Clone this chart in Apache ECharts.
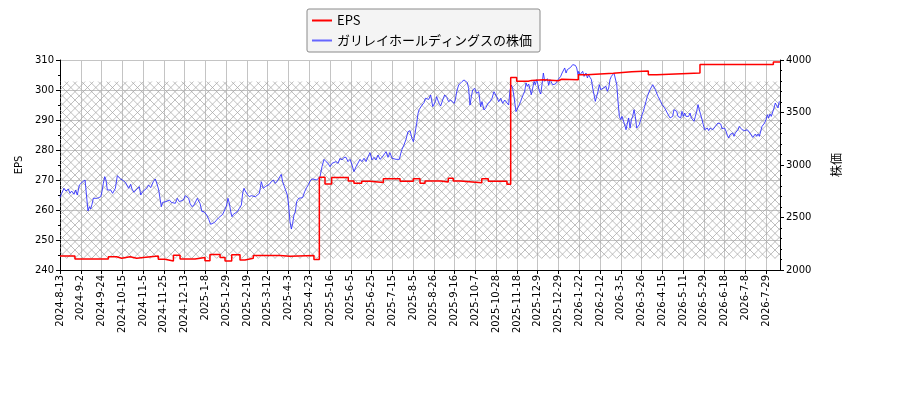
<!DOCTYPE html>
<html>
<head>
<meta charset="utf-8">
<script src="https://cdn.jsdelivr.net/npm/echarts@6/dist/echarts.min.js"></script>
<style>
  html, body { margin: 0; padding: 0; background: #fff; }
  #container { width: 900px; height: 400px; }
</style>
</head>
<body>
<div id="container"></div>
<script>
// x軸の目盛りラベル（15営業日ごと）
var xLabels = ["2024-8-13","2024-9-2","2024-9-24","2024-10-15","2024-11-5","2024-11-25","2024-12-13",
  "2025-1-8","2025-1-29","2025-2-19","2025-3-12","2025-4-3","2025-4-23","2025-5-16","2025-6-5","2025-6-25",
  "2025-7-15","2025-8-5","2025-8-26","2025-9-16","2025-10-7","2025-10-28","2025-11-18","2025-12-9","2025-12-29",
  "2026-1-22","2026-2-12","2026-3-5","2026-3-26","2026-4-15","2026-5-11","2026-5-29","2026-6-18","2026-7-8","2026-7-29"];
var lastDay = 520; // 最終営業日のインデックス

// EPS（変化点のみ: [営業日, 値]）
var eps = [[0,244.7],[10.8,243.7],[34.9,244.4],[40.9,243.9],[44.5,244.4],[50.6,243.9],[55.4,244.2],[60.2,244.7],
  [71,243.6],[75.8,243.0],[81.9,244.9],[86.7,243.7],[97.5,244.2],[104.7,243.1],[108.3,245.2],[115.6,244.2],
  [119.2,243.0],[124,245.1],[130,243.3],[133.6,243.9],[139.6,244.8],[158.9,244.6],[166.1,244.8],[183.4,243.5],
  [187.3,270.9],[191.4,268.7],[196.2,270.8],[208.2,269.7],[212.3,268.9],[217.9,269.6],[223.9,269.2],[233.5,270.4],
  [245.6,269.6],[255.2,270.4],[260,268.9],[263.6,269.7],[275,269.3],[280.4,270.6],[284,269.7],[288.9,269.1],
  [304.6,270.4],[309.3,269.6],[322.8,268.6],[325.5,304.2],[329.8,302.9],[338.2,303.2],[340.6,303.4],[349,303.1],
  [359.9,303.6],[362.3,303.4],[374.3,305.1],[380.4,305.6],[399.6,306.1],[412.9,306.3],[424.9,305.1],[431,305.7],
  [462.2,308.5],[515.2,309.3],[520,309.3]];

// 株価（[営業日, 円]）
var price = [[0,2692],[1.2,2730],[2.9,2778],[4.3,2752],[6,2771],[7.2,2730],[8.4,2752],[10.1,2721],[11.3,2762],
  [12.5,2714],[13.2,2708],[14,2810],[14.9,2825],[16.4,2841],[18.1,2857],[19.3,2863],[20.2,2562],[21.2,2603],
  [22.1,2581],[23.1,2625],[24.1,2683],[25.5,2667],[27,2683],[28.4,2673],[29.4,2698],[30.3,2746],[31.3,2825],
  [32.3,2889],[33.2,2857],[34.2,2762],[35.1,2746],[36.6,2762],[38,2730],[39,2740],[40,2778],[41.4,2898],
  [42.8,2879],[43.8,2867],[44.8,2873],[45.7,2851],[47.2,2835],[48.1,2841],[49.6,2778],[51,2816],[52,2771],
  [53.4,2740],[54.9,2762],[56.3,2778],[57.3,2794],[58.3,2714],[59.7,2746],[61.1,2752],[62.6,2778],[64,2810],
  [65.5,2784],[67.4,2841],[68.8,2867],[70.3,2810],[71.3,2762],[72.2,2683],[73.2,2603],[74.1,2644],[75.1,2625],
  [76.6,2651],[77.5,2657],[79,2667],[80.4,2644],[81.8,2625],[83.3,2635],[84.7,2683],[86.2,2651],[87.6,2644],
  [89.1,2667],[90.5,2708],[91.9,2689],[92.9,2683],[93.9,2635],[95.3,2603],[96.8,2619],[98.2,2657],[99.2,2683],
  [100.1,2698],[101.1,2635],[102.5,2556],[104,2556],[104.9,2540],[105.9,2524],[107.4,2483],[108.8,2435],
  [110.2,2444],[111.7,2454],[113.1,2476],[114.6,2498],[116,2517],[117.5,2530],[118.9,2571],[120.4,2619],
  [121.3,2683],[122.3,2635],[123.3,2556],[124.2,2508],[125.2,2530],[126.6,2540],[128.1,2556],[129.5,2587],
  [131,2619],[131.9,2730],[132.9,2778],[133.8,2752],[135.3,2721],[136.7,2698],[138.2,2708],[139.6,2689],
  [141.1,2698],[142.5,2714],[144,2730],[145.4,2841],[146.8,2778],[148.3,2794],[149.7,2778],[151.2,2816],
  [152.6,2841],[154.1,2857],[155.5,2825],[157,2848],[158.4,2867],[159.8,2911],[160.8,2841],[161.8,2803],
  [162.7,2784],[164.2,2714],[165.1,2619],[166.1,2460],[167.1,2390],[168,2444],[169,2524],[170,2556],
  [170.9,2651],[172.4,2683],[173.8,2676],[175.2,2689],[176.7,2746],[178.1,2784],[179.6,2816],[181,2857],
  [182.5,2867],[183.9,2857],[185.4,2857],[186.6,2860],[187.8,2889],[189.2,2984],[190.7,3054],[192.1,3032],
  [193.6,3016],[195,2984],[196.5,3016],[197.9,3000],[199.3,3032],[200.8,3016],[202.2,3064],[203.7,3048],
  [205.1,3073],[206.6,3073],[208,3032],[209.5,3054],[210.9,3000],[212.3,2937],[213.8,2984],[215.2,3000],
  [216.7,3054],[218.1,3032],[219.6,3064],[221,3032],[222.5,3079],[223.9,3117],[225.3,3048],[226.8,3073],
  [228.2,3048],[229.7,3095],[231.1,3054],[232.6,3073],[234,3086],[235.5,3127],[236.9,3073],[238.3,3117],
  [239.8,3064],[241.2,3073],[242.7,3054],[244.1,3064],[245.1,3054],[246,3105],[247,3149],[248.4,3190],
  [249.9,3244],[251.3,3317],[252.8,3327],[254.2,3254],[255.2,3222],[256.2,3286],[257.6,3397],[258.6,3492],
  [259.5,3530],[260.5,3549],[261.5,3571],[262.9,3594],[263.9,3635],[264.8,3651],[266.3,3625],[267.7,3667],
  [269.2,3556],[270.1,3540],[271.1,3603],[272,3651],[273.5,3594],[274.9,3562],[276.4,3619],[277.8,3667],
  [279.3,3644],[280.7,3603],[282.2,3619],[283.6,3635],[284.6,3587],[285.5,3619],[286.5,3698],[287.9,3762],
  [288.9,3746],[290.3,3794],[291.8,3810],[293.2,3794],[294.2,3784],[295.1,3730],[296.1,3571],[297.1,3651],
  [298,3714],[299.5,3730],[300.9,3683],[302.4,3698],[303.8,3556],[304.8,3603],[306.2,3524],[307.7,3549],
  [309.1,3587],[310.6,3603],[312,3635],[313.4,3698],[314.4,3683],[315.4,3651],[316.8,3603],[318.3,3635],
  [319.7,3587],[321.2,3619],[322.6,3603],[324,3571],[325,3714],[326,3762],[326.9,3730],[327.9,3651],
  [329.3,3508],[330.3,3492],[331.3,3562],[332.7,3606],[333.7,3644],[334.6,3670],[335.6,3702],[336.6,3781],
  [337.5,3749],[338.5,3771],[339.5,3717],[340.4,3670],[341.4,3733],[342.4,3797],[343.3,3765],[344.3,3813],
  [345.2,3765],[346.2,3702],[347.2,3676],[348.1,3765],[349.1,3876],[350.1,3797],[351,3781],[352,3822],
  [352.9,3759],[353.9,3813],[354.9,3797],[355.8,3765],[356.8,3781],[357.8,3771],[358.7,3790],[359.7,3813],
  [360.6,3829],[361.6,3844],[362.6,3876],[363.5,3892],[364.5,3924],[365.5,3876],[366.4,3908],[367.4,3924],
  [368.8,3930],[370.3,3956],[371.2,3971],[372.2,3949],[373.2,3924],[374.1,3860],[374.6,3892],[375.6,3860],
  [376.5,3876],[377.5,3892],[378.5,3844],[379.9,3876],[380.9,3829],[381.8,3860],[382.8,3835],[383.8,3813],
  [384.7,3733],[385.7,3670],[386.6,3606],[387.6,3654],[388.6,3702],[389.5,3765],[390.5,3717],[391.5,3717],
  [392.4,3733],[393.4,3717],[394.3,3749],[395.3,3702],[396.3,3733],[397.2,3813],[398.2,3844],[399.2,3829],
  [400.1,3876],[401.1,3860],[402.1,3765],[403,3606],[404,3463],[404.9,3432],[405.9,3463],[406.9,3448],
  [407.8,3384],[408.8,3336],[409.8,3400],[410.7,3448],[411.7,3352],[412.7,3432],[413.6,3463],[414.6,3527],
  [415.5,3463],[416.5,3352],[417.5,3336],[418.4,3384],[419.4,3432],[420.4,3479],[421.3,3511],[422.3,3559],
  [423.2,3606],[424.2,3654],[425.2,3670],[426.1,3717],[427.1,3733],[428.1,3765],[429,3749],[430,3717],
  [430.9,3686],[431.9,3654],[432.9,3670],[433.8,3606],[434.8,3575],[435.7,3559],[436.7,3543],[437.7,3527],
  [438.6,3495],[439.6,3479],[440.6,3448],[441.5,3432],[442.5,3463],[443.4,3527],[444.4,3543],[445.4,3511],
  [446.3,3463],[447.3,3479],[448.3,3448],[449.2,3511],[450.2,3463],[451.2,3495],[452.1,3463],[453.1,3479],
  [454,3463],[455,3495],[456,3448],[456.9,3432],[457.9,3416],[458.9,3463],[459.8,3511],[460.8,3575],
  [461.7,3527],[462.7,3479],[463.7,3432],[464.6,3384],[465.6,3336],[466.6,3321],[467.5,3352],[468.5,3327],
  [469.5,3352],[470.4,3368],[471.4,3336],[472.3,3352],[473.3,3368],[474.3,3384],[475.2,3400],[476.2,3384],
  [477.2,3390],[478.1,3346],[479.1,3327],[480,3352],[481,3321],[482,3282],[482.9,3257],[483.9,3289],
  [484.9,3273],[485.8,3305],[486.8,3273],[487.7,3305],[488.7,3321],[489.7,3336],[490.6,3368],[491.6,3352],
  [492.6,3336],[493.5,3346],[494.5,3327],[495.4,3321],[496.4,3336],[497.4,3321],[498.3,3305],[499.3,3289],
  [500.3,3263],[501.2,3257],[502.2,3295],[503.2,3273],[504.1,3295],[505.1,3273],[506,3257],[507,3368],
  [508,3352],[508.9,3400],[509.9,3432],[510.9,3479],[511.8,3448],[512.8,3486],[513.7,3463],[514.7,3479],
  [515.7,3543],[516.6,3590],[517.6,3575],[518.6,3543],[519.5,3606]];

// ハッチング範囲（EPS軸）
var hatchLow = 243.8, hatchHigh = 302.8;

var myChart = echarts.init(document.getElementById("container"));

// ×印のハッチングパターン
var pat = document.createElement("canvas");
pat.width = 25; pat.height = 25;
var ctx = pat.getContext("2d");
ctx.strokeStyle = "#a4a4a4";
ctx.lineWidth = 0.7;
for (var k = -3; k <= 3; k++) {
  var o = k * 25 / 3;
  ctx.beginPath(); ctx.moveTo(o, 0); ctx.lineTo(o + 25, 25); ctx.stroke();
  ctx.beginPath(); ctx.moveTo(o, 25); ctx.lineTo(o + 25, 0); ctx.stroke();
}

var font = "DejaVu Sans";
var jpFont = "Noto Sans CJK JP";

myChart.setOption({
  animation: false,
  grid: { left: 60, right: 120, top: 60, bottom: 130, containLabel: false },
  legend: {
    orient: "vertical",
    left: 307, top: 9,
    padding: [5, 8, 5, 5],
    itemWidth: 20, itemHeight: 2, itemGap: 7,
    icon: "rect",
    backgroundColor: "#f4f4f4",
    borderColor: "#8a8a8a", borderWidth: 1, borderRadius: 2,
    textStyle: { fontFamily: jpFont, fontSize: 13, color: "#000" },
    data: ["EPS", "ガリレイホールディングスの株価"]
  },
  xAxis: {
    type: "value",
    min: 0, max: lastDay, interval: 15,
    axisLine: { onZero: false, lineStyle: { color: "#000", width: 1 } },
    axisTick: { show: true, length: 4, lineStyle: { color: "#000" } },
    splitLine: { show: true, lineStyle: { color: "#c4c4c4", width: 1 } },
    axisLabel: {
      rotate: 90, margin: 5, fontFamily: font, fontSize: 10, color: "#000",
      showMaxLabel: false,
      formatter: function (v) {
        var i = v / 15;
        return (Math.abs(i - Math.round(i)) < 1e-6 && xLabels[Math.round(i)]) ? xLabels[Math.round(i)] : "";
      }
    }
  },
  yAxis: [
    {
      type: "value", min: 240, max: 310, interval: 10,
      name: "EPS", nameLocation: "middle", nameGap: 36, nameRotate: 90,
      nameTextStyle: { fontFamily: font, fontSize: 10, color: "#000" },
      axisLine: { show: true, lineStyle: { color: "#000" } },
      axisTick: { show: true, length: 4, lineStyle: { color: "#000" } },
      minorTick: { show: true, splitNumber: 2, length: 2, lineStyle: { color: "#000" } },
      splitLine: { show: true, lineStyle: { color: "#c4c4c4", width: 1 } },
      axisLabel: { fontFamily: font, fontSize: 10, color: "#000", margin: 6 }
    },
    {
      type: "value", min: 2000, max: 4000, interval: 500,
      name: "株価", nameLocation: "middle", nameGap: 50, nameRotate: 90,
      nameTextStyle: { fontFamily: jpFont, fontSize: 12, color: "#000" },
      axisLine: { show: true, lineStyle: { color: "#000" } },
      axisTick: { show: true, length: 4, lineStyle: { color: "#000" } },
      minorTick: { show: true, splitNumber: 5, length: 2, lineStyle: { color: "#000" } },
      splitLine: { show: false },
      axisLabel: {
        fontFamily: font, fontSize: 10, color: "#000", margin: 6,
        formatter: function (v) { return String(v); }
      }
    }
  ],
  series: [
    {
      name: "EPS",
      type: "line",
      yAxisIndex: 0,
      step: "end",
      symbol: "none",
      z: 3,
      lineStyle: { color: "#ff0000", width: 1.5 },
      itemStyle: { color: "#ff0000" },
      data: eps,
      markArea: {
        silent: true,
        itemStyle: { color: { image: pat, repeat: "repeat" } },
        data: [[{ yAxis: hatchLow }, { yAxis: hatchHigh }]]
      }
    },
    {
      name: "ガリレイホールディングスの株価",
      type: "line",
      yAxisIndex: 1,
      symbol: "none",
      z: 2,
      lineStyle: { color: "rgba(40,40,255,0.85)", width: 1 },
      itemStyle: { color: "#6666ff" },
      data: price
    }
  ]
});
</script>
</body>
</html>
